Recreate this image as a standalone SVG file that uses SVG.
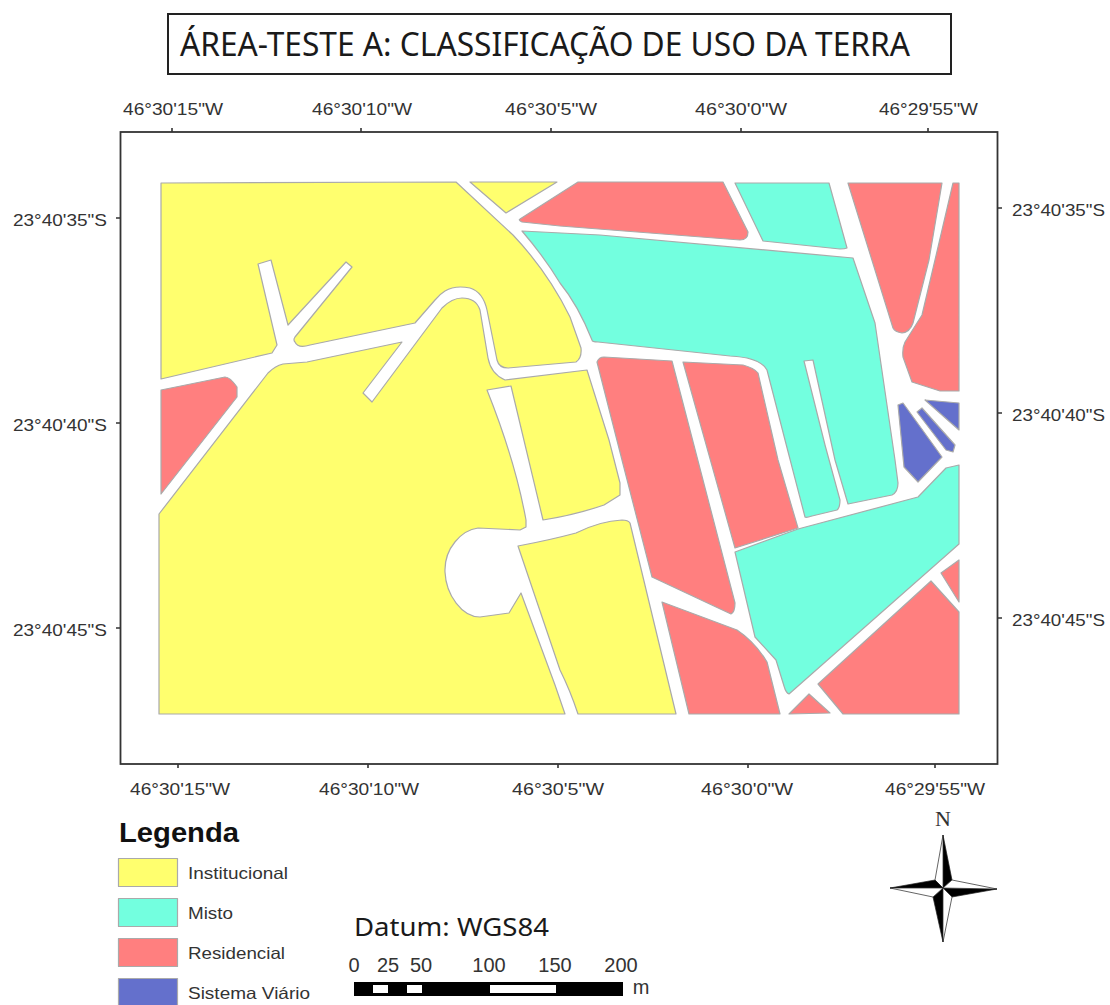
<svg xmlns="http://www.w3.org/2000/svg" width="1110" height="1005" viewBox="0 0 1110 1005">
<style>
text{font-family:"Liberation Sans",Arial,sans-serif;fill:#333}
.c{font-size:16.5px}
.l{font-size:16.5px}
.s{font-size:20px}
polygon,.a,.sw{stroke:#aaa;stroke-width:1.2;stroke-linejoin:round}
.y{fill:#ffff6e}.m{fill:#73ffdf}.r{fill:#ff7f7f}.b{fill:#6470cc}
.t{stroke:#333;stroke-width:1.6}
.st polygon{stroke:#222;stroke-width:.7}
</style>
<rect width="1110" height="1005" fill="#fff"/>
<g id="title">
<rect x="168" y="14" width="783" height="60" fill="#fff" stroke="#222" stroke-width="2"/>
<text x="180" y="56" style="font-family:'Noto Sans','Open Sans',sans-serif;font-size:33px;fill:#1a1a1a" textLength="730" lengthAdjust="spacingAndGlyphs">ÁREA-TESTE A: CLASSIFICAÇÃO DE USO DA TERRA</text>
</g>
<g id="frame">
<rect x="120.500" y="132" width="877" height="632" fill="#fff" stroke="#333" stroke-width="1.8"/>
<path class="t" d="M172 128V132M361 128V132M551 128V132M741 128V132M928 128V132M178 764V768M368 764V768M558 764V768M748 764V768M935 764V768M116 218H120M116 423H120M116 628H120M998 208H1002M998 413H1002M998 618H1002"/>
</g>
<g id="map">
<path class="a y" d="M161 183L456 182L513 235Q548 272 570 317L581 348Q582 358 576 362L508 368Q499 368 497 360L487 310Q483 292 470 288Q455 285 445 291Q440 294 435 300L415 323L310 345Q298 349 295 342Q293 340 295 337L352 267L346 262L288 325L271 260L258 264L277 345L272 353L161 379Z"/>
<path class="a y" d="M159 514L268 373Q275 366 283 364L307 362L402 342L363 393L372 402L442 308Q452 298 462 298Q476 298 480 310L488 358Q491 374 505 380L587 370L609 440L620 483L620 495L604 505Q575 515 543 520L511 386L487 390Q515 460 526 520L526 527L520 530L478 528C462 530 444 548 445 572C446 595 462 617 480 617L509 613L521 593L555 685L565 714L159 714Z"/>
<path class="a y" d="M518 546Q550 540 576 533Q600 521 622 520Q628 520 630 523L676 714L578 714Q570 690 560 670Z"/>
<polygon class="y" points="470,182 557,182 506,213"/>
<path class="a r" d="M161 390L225 377Q230 377 237 387L237 397L161 494Z"/>
<path class="a r" d="M578 182L723 182L748 232Q748 240 740 240L560 226L522 222Q518 220 520 219Z"/>
<path class="a m" d="M735 183L829 183L847 248Q845 249 840 249L763 241Z"/>
<path class="a m" d="M522 231L600 235L853 258L875 323L895 460L898 483Q898 492 892 495L848 504L835 460L813 360L804 361L825 445L840 500Q840 508 837 510L812 516Q806 518 805 517L785 440L767 370Q763 362 747 358Q735 356 730 356L598 342Q592 342 592 340Q578 305 560 283Q545 258 522 231Z"/>
<path class="a r" d="M597 362Q599 357 604 357L672 361L735 603Q735 612 731 614L652 577L622 460Z"/>
<path class="a r" d="M683 362L743 365Q754 368 758 373L778 460L798 528L735 548Z"/>
<path class="a m" d="M735 552L798 529L918 497L946 468L959 465L959 544L789 694Q786 693 784 686L776 660L755 637Z"/>
<path class="a r" d="M662 602L737 630Q755 642 767 662L780 714L689 714Z"/>
<polygon class="r" points="809,694 830,713 789,714"/>
<polygon class="r" points="818,684 931,581 959,612 959,714 843,714"/>
<polygon class="r" points="941,573 959,560 959,602"/>
<path class="a r" d="M848 183L942 183L929 260L913 323Q910 332 902 333Q895 332 893 328Z"/>
<path class="a r" d="M953 183L959 183L959 391L940 391L912 382L903 357Q902 348 905 342L922 315L935 260Z"/>
<polygon class="b" points="898,405 903,403 942,457 918,482 904,467"/>
<polygon class="b" points="917,412 922,408 955,445 953,452 946,450"/>
<polygon class="b" points="925,400 959,403 959,430"/>
</g>
<g id="coords">
<text class="c" x="123" y="115" textLength="100" lengthAdjust="spacingAndGlyphs">46°30'15"W</text>
<text class="c" x="312" y="115" textLength="100" lengthAdjust="spacingAndGlyphs">46°30'10"W</text>
<text class="c" x="505" y="115" textLength="92" lengthAdjust="spacingAndGlyphs">46°30'5"W</text>
<text class="c" x="695" y="115" textLength="92" lengthAdjust="spacingAndGlyphs">46°30'0"W</text>
<text class="c" x="879" y="115" textLength="99" lengthAdjust="spacingAndGlyphs">46°29'55"W</text>
<text class="c" x="130" y="795" textLength="100" lengthAdjust="spacingAndGlyphs">46°30'15"W</text>
<text class="c" x="319" y="795" textLength="100" lengthAdjust="spacingAndGlyphs">46°30'10"W</text>
<text class="c" x="512" y="795" textLength="92" lengthAdjust="spacingAndGlyphs">46°30'5"W</text>
<text class="c" x="701" y="795" textLength="92" lengthAdjust="spacingAndGlyphs">46°30'0"W</text>
<text class="c" x="885" y="795" textLength="100" lengthAdjust="spacingAndGlyphs">46°29'55"W</text>
<text class="c" x="13" y="226" textLength="94" lengthAdjust="spacingAndGlyphs">23°40'35"S</text>
<text class="c" x="13" y="431" textLength="94" lengthAdjust="spacingAndGlyphs">23°40'40"S</text>
<text class="c" x="13" y="636" textLength="94" lengthAdjust="spacingAndGlyphs">23°40'45"S</text>
<text class="c" x="1012" y="216" textLength="93" lengthAdjust="spacingAndGlyphs">23°40'35"S</text>
<text class="c" x="1012" y="421" textLength="93" lengthAdjust="spacingAndGlyphs">23°40'40"S</text>
<text class="c" x="1012" y="626" textLength="93" lengthAdjust="spacingAndGlyphs">23°40'45"S</text>
</g>
<g id="legend">
<text x="119" y="842" style="font-size:27px;font-weight:bold;fill:#111" textLength="120" lengthAdjust="spacingAndGlyphs">Legenda</text>
<rect class="sw y" x="118.500" y="858.500" width="59" height="28"/>
<rect class="sw m" x="118.500" y="898.500" width="59" height="28"/>
<rect class="sw r" x="118.500" y="938.500" width="59" height="28"/>
<rect class="sw b" x="118.500" y="978.500" width="59" height="30"/>
<text class="l" x="188" y="879" textLength="100" lengthAdjust="spacingAndGlyphs">Institucional</text>
<text class="l" x="188" y="919" textLength="45" lengthAdjust="spacingAndGlyphs">Misto</text>
<text class="l" x="188" y="959" textLength="97" lengthAdjust="spacingAndGlyphs">Residencial</text>
<text class="l" x="188" y="999" textLength="122" lengthAdjust="spacingAndGlyphs">Sistema Viário</text>
</g>
<g id="datum">
<text x="354" y="936" style="font-family:'Noto Sans','Open Sans',sans-serif;font-size:25px;fill:#1a1a1a" textLength="195" lengthAdjust="spacingAndGlyphs">Datum: WGS84</text>
</g>
<g id="scale">
<rect x="354" y="982" width="269" height="14" fill="#000"/>
<rect x="373" y="985" width="15" height="8" fill="#fff"/>
<rect x="407" y="985" width="15" height="8" fill="#fff"/>
<rect x="490" y="985" width="66" height="8" fill="#fff"/>
<g text-anchor="middle">
<text class="s" x="354" y="972">0</text>
<text class="s" x="388" y="972">25</text>
<text class="s" x="421" y="972">50</text>
<text class="s" x="489" y="972">100</text>
<text class="s" x="555" y="972">150</text>
<text class="s" x="621" y="972">200</text>
<text class="s" x="641" y="994">m</text>
</g>
</g>
<g id="north" class="st">
<text x="943" y="826" text-anchor="middle" style="font-family:'Liberation Serif',serif;font-size:22px">N</text>
<polygon fill="#000" points="943,835 952,880 943,888"/>
<polygon fill="#fff" points="943,835 935,880 943,888"/>
<polygon fill="#000" points="997,889 952,897 943,888"/>
<polygon fill="#fff" points="997,889 952,880 943,888"/>
<polygon fill="#000" points="943,942 933,897 943,888"/>
<polygon fill="#fff" points="943,942 952,897 943,888"/>
<polygon fill="#000" points="890,888 935,880 943,888"/>
<polygon fill="#fff" points="890,888 933,897 943,888"/>
</g>
</svg>
